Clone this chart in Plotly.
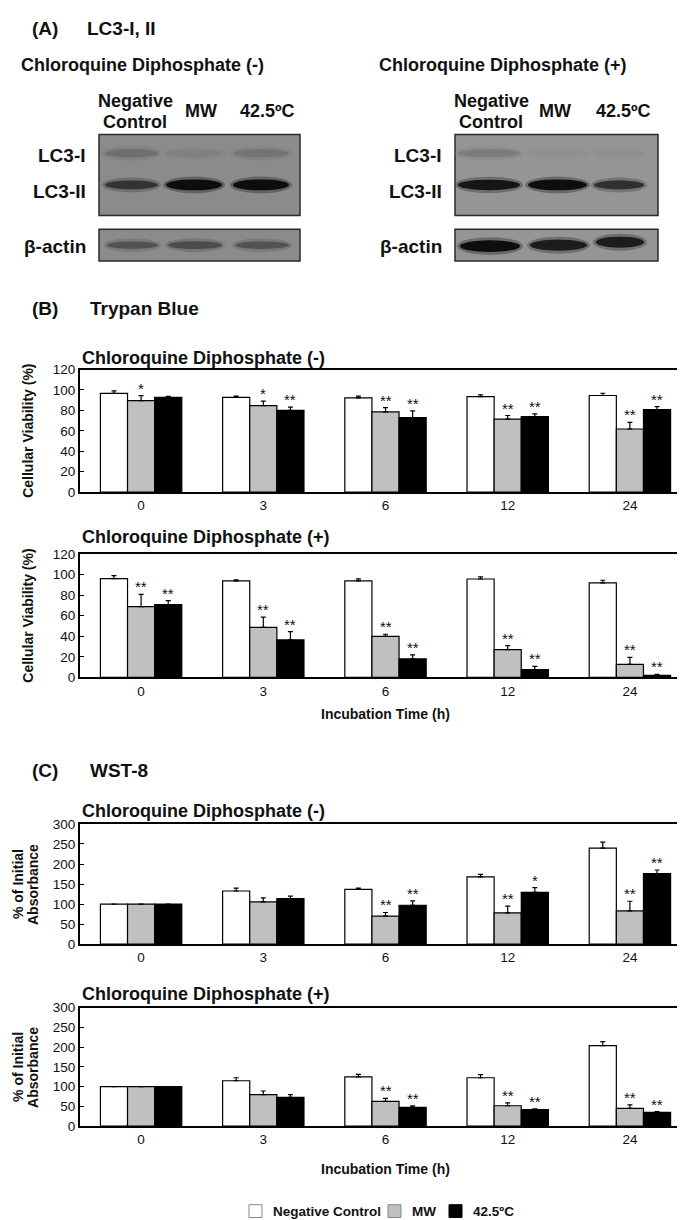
import plotly.graph_objects as go

W, H = 685, 1220
FONT = "Liberation Sans, Arial, Helvetica, sans-serif"

# ---------------- data ----------------
times = ["0", "3", "6", "12", "24"]
group_names = ["Negative Control", "MW", "42.5ºC"]

# Trypan blue, chloroquine (-)
tb_minus_nc = [96.7, 92.7, 92.3, 93.6, 94.6]
tb_minus_nc_err = [2.5, 1.3, 1.7, 1.6, 2.2]
tb_minus_mw = [89.5, 84.6, 78.5, 71.4, 61.8]
tb_minus_mw_err = [5.0, 4.5, 4.2, 3.6, 6.4]
tb_minus_hs = [92.8, 80.0, 73.0, 74.0, 80.8]
tb_minus_hs_err = [1.0, 3.3, 6.5, 2.6, 2.9]
tb_minus_sig_mw = ["*", "*", "**", "**", "**"]
tb_minus_sig_hs = ["", "**", "**", "**", "**"]

# Trypan blue, chloroquine (+)
tb_plus_nc = [96.0, 93.8, 93.8, 95.7, 92.0]
tb_plus_nc_err = [3.0, 1.0, 2.0, 2.0, 2.5]
tb_plus_mw = [68.8, 48.6, 40.0, 27.0, 12.8]
tb_plus_mw_err = [12.0, 10.0, 2.0, 4.0, 6.7]
tb_plus_hs = [70.7, 36.5, 18.0, 7.7, 2.0]
tb_plus_hs_err = [4.0, 8.0, 4.0, 3.0, 1.0]
tb_plus_sig_mw = ["**", "**", "**", "**", "**"]
tb_plus_sig_hs = ["**", "**", "**", "**", "**"]

# WST-8, chloroquine (-)
wst_minus_nc = [100, 132.6, 136.7, 168.0, 239.7]
wst_minus_nc_err = [0, 7, 3, 6, 15]
wst_minus_mw = [100, 105.4, 70.0, 78.0, 83.0]
wst_minus_mw_err = [0, 10, 9, 17, 24]
wst_minus_hs = [100, 113.7, 97.0, 129.0, 176.0]
wst_minus_hs_err = [0, 6, 11, 12, 9]
wst_minus_sig_mw = ["", "", "**", "**", "**"]
wst_minus_sig_hs = ["", "", "**", "*", "**"]

# WST-8, chloroquine (+)
wst_plus_nc = [100, 115.0, 125.0, 122.5, 204.0]
wst_plus_nc_err = [0, 7.5, 6, 8, 10]
wst_plus_mw = [100, 80.0, 62.5, 51.7, 45.0]
wst_plus_mw_err = [0, 9, 8, 7.5, 9]
wst_plus_hs = [100, 73.0, 47.5, 41.7, 35.0]
wst_plus_hs_err = [0, 7, 4, 2, 2]
wst_plus_sig_mw = ["", "", "**", "**", "**"]
wst_plus_sig_hs = ["", "", "**", "**", "**"]

# Western blot band intensities (0..1) per lane: NC, MW, 42.5
blot_lanes = ["Negative Control", "MW", "42.5ºC"]
lc3i_minus = [0.22, 0.08, 0.18]
lc3ii_minus = [0.7, 1.0, 1.0]
actin_minus = [0.45, 0.5, 0.45]
lc3i_plus = [0.18, 0.04, 0.04]
lc3ii_plus = [0.95, 1.0, 0.75]
actin_plus = [1.0, 0.9, 0.9]

# ---------------- helpers ----------------
def px(x):
    return x / W

def py(y):
    return 1 - y / H

fig = go.Figure()
annotations = []
shapes = []

def txt(text, x, y, size, xanchor="left", yanchor="middle", bold=True, angle=0, color="#111"):
    annotations.append(dict(
        text=("<b>%s</b>" % text) if bold else text,
        x=px(x), y=py(y), xref="paper", yref="paper",
        xanchor=xanchor, yanchor=yanchor, showarrow=False,
        textangle=angle, font=dict(family=FONT, size=size, color=color)))

fills = ["#ffffff", "#c0c0c0", "#000000"]
offsets = [-0.222, 0.0, 0.222]
BW = 0.222

panels = [
    ("", 359, 483, 120, 20,
     [(tb_minus_nc, tb_minus_nc_err, None), (tb_minus_mw, tb_minus_mw_err, tb_minus_sig_mw),
      (tb_minus_hs, tb_minus_hs_err, tb_minus_sig_hs)]),
    ("2", 545.7, 670.7, 120, 20,
     [(tb_plus_nc, tb_plus_nc_err, None), (tb_plus_mw, tb_plus_mw_err, tb_plus_sig_mw),
      (tb_plus_hs, tb_plus_hs_err, tb_plus_sig_hs)]),
    ("3", 819, 940.7, 300, 50,
     [(wst_minus_nc, wst_minus_nc_err, None), (wst_minus_mw, wst_minus_mw_err, wst_minus_sig_mw),
      (wst_minus_hs, wst_minus_hs_err, wst_minus_sig_hs)]),
    ("4", 1005, 1125, 300, 50,
     [(wst_plus_nc, wst_plus_nc_err, None), (wst_plus_mw, wst_plus_mw_err, wst_plus_sig_mw),
      (wst_plus_hs, wst_plus_hs_err, wst_plus_sig_hs)]),
]

X0, X1 = 72, 683
layout_axes = {}
for pi, (suf, top, bot, ymax, dtick, series) in enumerate(panels):
    xa = "x" + suf
    ya = "y" + suf
    for gi, (vals, errs, sig) in enumerate(series):
        xs = [i + offsets[gi] for i in range(len(times))]
        fig.add_trace(go.Bar(
            x=xs, y=vals, width=BW, name=group_names[gi],
            marker=dict(color=fills[gi], line=dict(color="#000", width=1.2)),
            error_y=dict(type="data", array=errs, arrayminus=[0] * len(errs), symmetric=False,
                         color="#000", thickness=1.2, width=2.5),
            xaxis=xa, yaxis=ya, showlegend=False, legendgroup=group_names[gi],
        ))
        if sig is not None:
            for i, s in enumerate(sig):
                if s:
                    annotations.append(dict(
                        text=s, x=xs[i], y=vals[i] + errs[i], xref=xa, yref=ya,
                        xanchor="center", yanchor="bottom", yshift=-3, showarrow=False,
                        font=dict(family=FONT, size=15, color="#111")))
    axis_common = dict(showline=True, linecolor="#000", linewidth=2, mirror=True,
                       showgrid=False, zeroline=False,
                       tickfont=dict(family=FONT, size=13.5, color="#111"))
    layout_axes["xaxis" + suf] = dict(
        domain=[px(X0), px(X1)], anchor=ya, range=[-0.5, 4.5],
        tickmode="array", tickvals=list(range(len(times))), ticktext=times,
        ticks="", **axis_common)
    layout_axes["yaxis" + suf] = dict(
        domain=[py(bot), py(top)], anchor=xa, range=[0, ymax], dtick=dtick,
        ticks="inside", ticklen=4, tickcolor="#000", tickwidth=1, **axis_common)

# ---------------- texts ----------------
txt("(A)", 22, 14, 19)
txt("LC3-I, II", 77, 14, 19)
txt("(B)", 22, 297, 19)
txt("Trypan Blue", 80, 297, 19)
txt("(C)", 22, 765, 19)
txt("WST-8", 80, 765, 19)

txt("Chloroquine Diphosphate (-)", 11, 51, 18)
txt("Chloroquine Diphosphate (+)", 369, 51, 18)
txt("Chloroquine Diphosphate (-)", 72, 347, 18)
txt("Chloroquine Diphosphate (+)", 72, 528, 18)
txt("Chloroquine Diphosphate (-)", 72, 806, 18)
txt("Chloroquine Diphosphate (+)", 72, 991, 18)

txt("Cellular Viability (%)", 20, (359 + 483) / 2, 14, xanchor="center", angle=-90)
txt("Cellular Viability (%)", 20, (545.7 + 670.7) / 2, 14, xanchor="center", angle=-90)
for (t, b) in [(819, 940.7), (1005, 1125)]:
    txt("% of Initial", 10, (t + b) / 2, 14, xanchor="center", angle=-90)
    txt("Absorbance", 25, (t + b) / 2, 14, xanchor="center", angle=-90)
txt("Incubation Time (h)", 377, 708, 14, xanchor="center")
txt("Incubation Time (h)", 377, 1168, 14, xanchor="center")

# ---------------- custom legend ----------------
leg_y = 1211
leg_items = [(241, 263), (380, 402), (441, 463)]
for gi, (sx, tx) in enumerate(leg_items):
    shapes.append(dict(type="rect", xref="paper", yref="paper",
                       x0=px(sx), x1=px(sx + 13), y0=py(leg_y + 6.5), y1=py(leg_y - 6.5),
                       fillcolor=fills[gi], line=dict(color="#888" if gi < 2 else "#000", width=1)))
    txt(group_names[gi], tx, leg_y, 13.5)

# ---------------- western blots ----------------
blots = [
    (91, 292, "#8b8b8b", [(97, 150), (158, 214), (225, 281)], lc3i_minus, lc3ii_minus, actin_minus,
     [0, 0, 0], [127, 193, 259], 80),
    (447, 650, "#959595", [(450, 512), (520, 579), (586, 636)], lc3i_plus, lc3ii_plus, actin_plus,
     [1, 0, -3], [483, 547, 615], 436),
]

def shade(bg_hex, k):
    r = int(bg_hex[1:3], 16)
    v = int(r * (1 - 0.9 * k))
    return "#%02x%02x%02x" % (v, v, v)

for (bx0, bx1, bg, lanes, l1, l2, act, aoff, label_x, lab_r) in blots:
    shapes.append(dict(type="rect", xref="paper", yref="paper",
                       x0=px(bx0), x1=px(bx1), y0=py(203), y1=py(121),
                       fillcolor=bg, line=dict(color="#2a2a2a", width=1.5), layer="below"))
    shapes.append(dict(type="rect", xref="paper", yref="paper",
                       x0=px(bx0), x1=px(bx1), y0=py(249), y1=py(217),
                       fillcolor=bg, line=dict(color="#2a2a2a", width=1.5), layer="below"))
    for li, (lx0, lx1) in enumerate(lanes):
        for k, (grow, op) in enumerate([(3, 0.5), (0, 1.0)]):
            h = 3 + 6 * l1[li] + grow
            shapes.append(dict(type="circle", xref="paper", yref="paper",
                               x0=px(lx0 - grow), x1=px(lx1 + grow), y0=py(140 + h), y1=py(140 - h),
                               fillcolor=shade(bg, l1[li] * (0.6 if k == 0 else 1.0)),
                               line=dict(width=0), opacity=op, layer="below"))
        for k, (grow, op) in enumerate([(3, 0.45), (0, 1.0)]):
            h = 2 + 3.5 * l2[li] + grow
            shapes.append(dict(type="circle", xref="paper", yref="paper",
                               x0=px(lx0 - grow), x1=px(lx1 + grow), y0=py(172 + h), y1=py(172 - h),
                               fillcolor=shade(bg, l2[li] * (0.7 if k == 0 else 1.0)),
                               line=dict(width=0), opacity=op, layer="below"))
        cy = 233 + aoff[li]
        for k, (grow, op) in enumerate([(3, 0.45), (0, 1.0)]):
            h = 2 + 4 * act[li] + grow
            shapes.append(dict(type="circle", xref="paper", yref="paper",
                               x0=px(lx0 - grow + 2), x1=px(lx1 + grow), y0=py(cy + h), y1=py(cy - h),
                               fillcolor=shade(bg, act[li] * (0.7 if k == 0 else 1.0)),
                               line=dict(width=0), opacity=op, layer="below"))
    txt("Negative", label_x[0], 87, 18, xanchor="center")
    txt("Control", label_x[0], 108, 18, xanchor="center")
    txt("MW", label_x[1], 97, 18, xanchor="center")
    txt("42.5ºC", label_x[2], 97, 18, xanchor="center")
    txt("LC3-I", lab_r, 142, 19, xanchor="right")
    txt("LC3-II", lab_r, 179, 19, xanchor="right")
    txt("β-actin", lab_r, 234, 19, xanchor="right")

fig.update_layout(
    width=W, height=H,
    margin=dict(l=0, r=0, t=0, b=0),
    paper_bgcolor="#ffffff", plot_bgcolor="#ffffff",
    barmode="overlay",
    font=dict(family=FONT, color="#111"),
    showlegend=False,
    annotations=annotations,
    shapes=shapes,
    **layout_axes,
)

fig.write_html("out.html")
